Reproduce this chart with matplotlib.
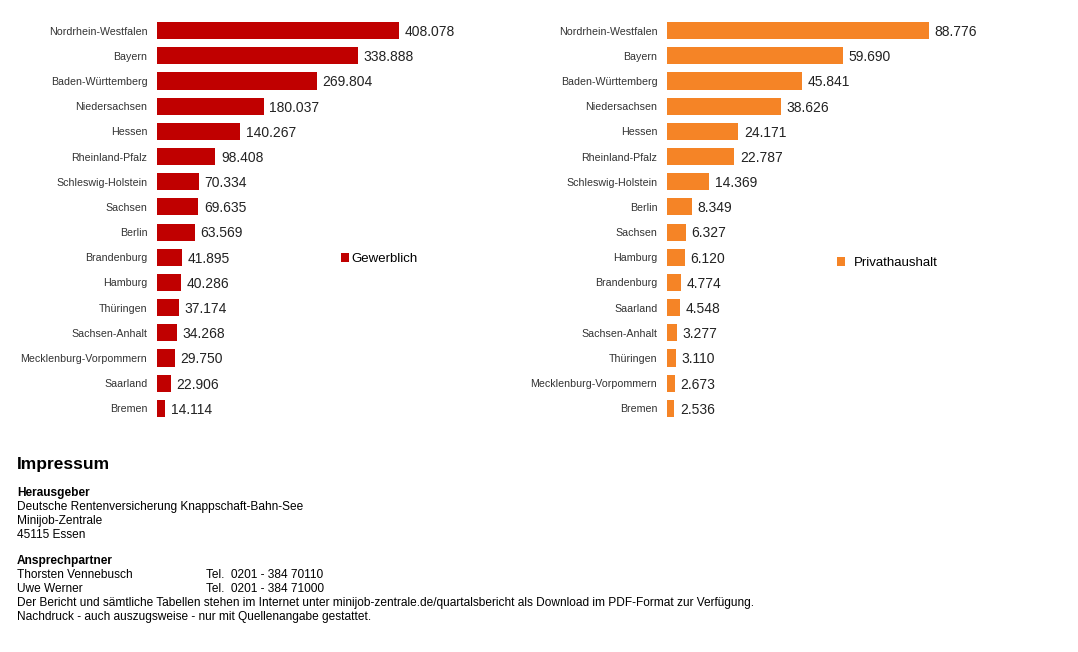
import matplotlib.pyplot as plt

# data
gewerblich_states = ['Nordrhein-Westfalen', 'Bayern', 'Baden-Württemberg', 'Niedersachsen',
                     'Hessen', 'Rheinland-Pfalz', 'Schleswig-Holstein', 'Sachsen', 'Berlin',
                     'Brandenburg', 'Hamburg', 'Thüringen', 'Sachsen-Anhalt',
                     'Mecklenburg-Vorpommern', 'Saarland', 'Bremen']
gewerblich_values = [408078, 338888, 269804, 180037, 140267, 98408, 70334, 69635, 63569,
                     41895, 40286, 37174, 34268, 29750, 22906, 14114]

privat_states = ['Nordrhein-Westfalen', 'Bayern', 'Baden-Württemberg', 'Niedersachsen',
                 'Hessen', 'Rheinland-Pfalz', 'Schleswig-Holstein', 'Berlin', 'Sachsen',
                 'Hamburg', 'Brandenburg', 'Saarland', 'Sachsen-Anhalt', 'Thüringen',
                 'Mecklenburg-Vorpommern', 'Bremen']
privat_values = [88776, 59690, 45841, 38626, 24171, 22787, 14369, 8349, 6327,
                 6120, 4774, 4548, 3277, 3110, 2673, 2536]

plt.rcParams['font.family'] = ['Liberation Sans', 'DejaVu Sans']

W, H = 1078, 652
fig = plt.figure(figsize=(W / 100, H / 100), dpi=100)


def fmt(v):
    return f'{v:,}'.replace(',', '.')


def draw(left_px, bar_px, states, values, color, label, leg_xy, leg_pad):
    ax_w = 300
    ax = fig.add_axes([left_px / W, (H - 421) / H, ax_w / W, 403 / H])
    vmax = max(values)
    ax.set_xlim(0, vmax * ax_w / bar_px)
    ax.set_ylim(len(states) - 0.5, -0.5)
    pos = range(len(states))
    ax.barh(pos, values, height=0.68, color=color, label=label)
    for p, v in zip(pos, values):
        ax.annotate(fmt(v), (v, p), xytext=(4, -1), textcoords='offset points',
                    va='center', ha='left', fontsize=10, color='#222222')
    ax.set_yticks(list(pos))
    ax.set_yticklabels(states, fontsize=7.7, color='#333333')
    ax.tick_params(axis='y', length=0, pad=7)
    ax.set_xticks([])
    for s in ax.spines.values():
        s.set_visible(False)
    ax.legend(loc='center left', bbox_to_anchor=(leg_xy[0] / W, 1 - leg_xy[1] / H),
              bbox_transform=fig.transFigure, frameon=False, fontsize=9.5,
              handlelength=0.6, handleheight=0.6, handletextpad=leg_pad, borderpad=0)
    return ax


draw(157, 242, gewerblich_states, gewerblich_values, '#C00000', 'Gewerblich', (334, 259), 0.2)
draw(667, 262, privat_states, privat_values, '#F58426', 'Privathaushalt', (830, 263), 0.7)

# Impressum block
fig.text(17 / W, 1 - 464 / H, 'Impressum', fontsize=12.5, fontweight='bold', va='center')
lines = [
    (493, 'Herausgeber', True),
    (507, 'Deutsche Rentenversicherung Knappschaft-Bahn-See', False),
    (521, 'Minijob-Zentrale', False),
    (535, '45115 Essen', False),
    (561, 'Ansprechpartner', True),
    (575, 'Thorsten Vennebusch', False),
    (589, 'Uwe Werner', False),
    (603, 'Der Bericht und sämtliche Tabellen stehen im Internet unter '
          'minijob-zentrale.de/quartalsbericht als Download im PDF-Format zur Verfügung.', False),
    (617, 'Nachdruck - auch auszugsweise - nur mit Quellenangabe gestattet.', False),
]
for y, t, bold in lines:
    fig.text(17 / W, 1 - y / H, t, fontsize=8.6, va='center',
             fontweight='bold' if bold else 'normal')
fig.text(206 / W, 1 - 575 / H, 'Tel.  0201 - 384 70110', fontsize=8.6, va='center')
fig.text(206 / W, 1 - 589 / H, 'Tel.  0201 - 384 71000', fontsize=8.6, va='center')

fig.savefig('out.png', dpi=100, facecolor='white')
